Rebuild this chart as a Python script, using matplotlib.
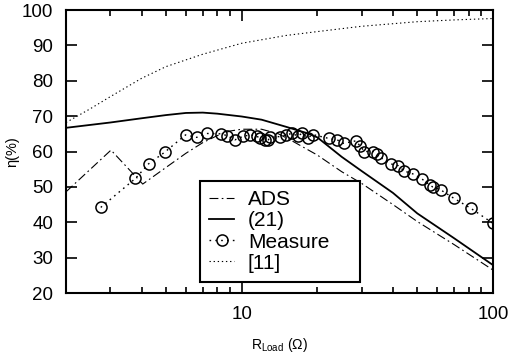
import matplotlib
matplotlib.use("Agg")
import matplotlib.pyplot as plt
from matplotlib.ticker import LogLocator, NullFormatter, FixedLocator, FixedFormatter

plt.rcParams['font.family'] = ['Liberation Sans', 'DejaVu Sans']
plt.rcParams['mathtext.fontset'] = 'custom'
plt.rcParams['mathtext.rm'] = 'Liberation Sans'

# ADS simulation
ads_x = [2.0, 3.02, 4.04, 5.0, 6.0, 7.0, 8.0, 9.0, 10.0, 12.0, 14.0, 15.6, 20.0, 25.0, 30.0, 40.0, 50.0, 70.0, 100.0]
ads_y = [48.6, 60.4, 50.8, 55.5, 59.5, 62.5, 64.5, 65.8, 66.3, 66.3, 65.0, 63.3, 59.0, 54.3, 51.0, 45.0, 40.2, 33.7, 26.5]

# Eq. (21)
eq_x = [2.0, 3.0, 4.0, 5.0, 6.0, 7.0, 8.0, 10.0, 12.0, 15.0, 18.0, 20.0, 25.0, 30.0, 40.0, 50.0, 70.0, 100.0]
eq_y = [66.7, 68.2, 69.4, 70.3, 70.9, 71.0, 70.7, 69.9, 69.0, 67.0, 65.3, 64.0, 58.5, 54.5, 48.3, 42.5, 35.5, 27.9]

# Measurement
meas_x = [2.75, 3.78, 4.26, 4.94, 5.98, 6.62, 7.31, 8.28, 8.73, 9.40, 10.15, 10.84, 11.46, 11.83,
          12.4, 12.77, 12.98, 14.22, 14.96, 15.85, 16.72, 17.38, 18.34, 19.2, 22.2, 23.99, 25.5,
          28.4, 29.7, 30.8, 33.4, 34.7, 35.7, 39.2, 42.0, 44.3, 47.9, 52.0, 56.2, 57.5, 62.1,
          69.8, 81.8, 100.0]
meas_y = [44.2, 52.4, 56.5, 59.8, 64.7, 64.0, 65.1, 65.0, 64.5, 63.3, 64.3, 64.7, 64.4, 63.7,
          63.3, 63.3, 64.2, 64.2, 64.7, 65.1, 64.4, 65.1, 63.9, 64.8, 63.7, 63.3, 62.3,
          63.0, 61.5, 60.0, 60.0, 59.3, 58.3, 56.5, 56.0, 54.5, 53.7, 52.3, 50.5, 50.0, 49.1,
          46.8, 43.9, 39.7]

# Ref [11]
ref_x = [2.0, 2.5, 3.0, 4.0, 5.0, 7.0, 10.0, 15.0, 20.0, 30.0, 50.0, 70.0, 100.0]
ref_y = [68.2, 72.1, 75.5, 80.7, 84.0, 87.5, 90.6, 92.8, 93.9, 95.4, 96.7, 97.2, 97.6]

labels = ["ADS", "(21)", "Measure", "[11]"]

fig = plt.figure(figsize=(5.14, 3.63), dpi=100)
ax = fig.add_axes([0.1284, 0.1928, 0.8307, 0.7796])

ax.plot(ads_x, ads_y, color='black', lw=0.8, linestyle=(0, (8, 3, 1.5, 3)), label=labels[0])
ax.plot(eq_x, eq_y, color='black', lw=1.3, linestyle='-', label=labels[1])
ax.plot(meas_x, meas_y, color='black', lw=1.0, linestyle=(0, (1.2, 3)), marker='o', ms=8,
        mfc='none', mec='black', mew=1.1, label=labels[2])
ax.plot(ref_x, ref_y, color='black', lw=0.8, linestyle=(0, (1.2, 2.5)), label=labels[3])

ax.set_xscale('log')
ax.set_xlim(2, 100)
ax.set_ylim(20, 100)
ax.xaxis.set_major_locator(FixedLocator([10, 100]))
ax.xaxis.set_major_formatter(FixedFormatter(["10", "100"]))
ax.xaxis.set_minor_locator(LogLocator(base=10, subs=range(2, 10)))
ax.xaxis.set_minor_formatter(NullFormatter())
ax.set_yticks([20, 30, 40, 50, 60, 70, 80, 90, 100])

ax.tick_params(which='both', direction='in', top=True, right=True, width=1.2, labelsize=13.5, pad=9)
ax.tick_params(which='major', length=8)
ax.tick_params(which='minor', length=4)
for s in ax.spines.values():
    s.set_linewidth(1.5)

ax.set_xlabel(r"R$_{\mathregular{Load}}$ (Ω)", fontsize=10, labelpad=10)
ax.set_ylabel("η(%)", fontsize=10.5, labelpad=2)

leg = ax.legend(loc='lower left', bbox_to_anchor=(0.314, 0.039, 0.375, 0.353), mode='expand',
                borderaxespad=0,
                fontsize=15, frameon=True, fancybox=False, edgecolor='black',
                handlelength=1.2, handletextpad=0.65, labelspacing=0.1, borderpad=0.45)
leg.get_frame().set_linewidth(1.5)
leg.get_frame().set_alpha(1)

fig.savefig("out.png", dpi=100)
